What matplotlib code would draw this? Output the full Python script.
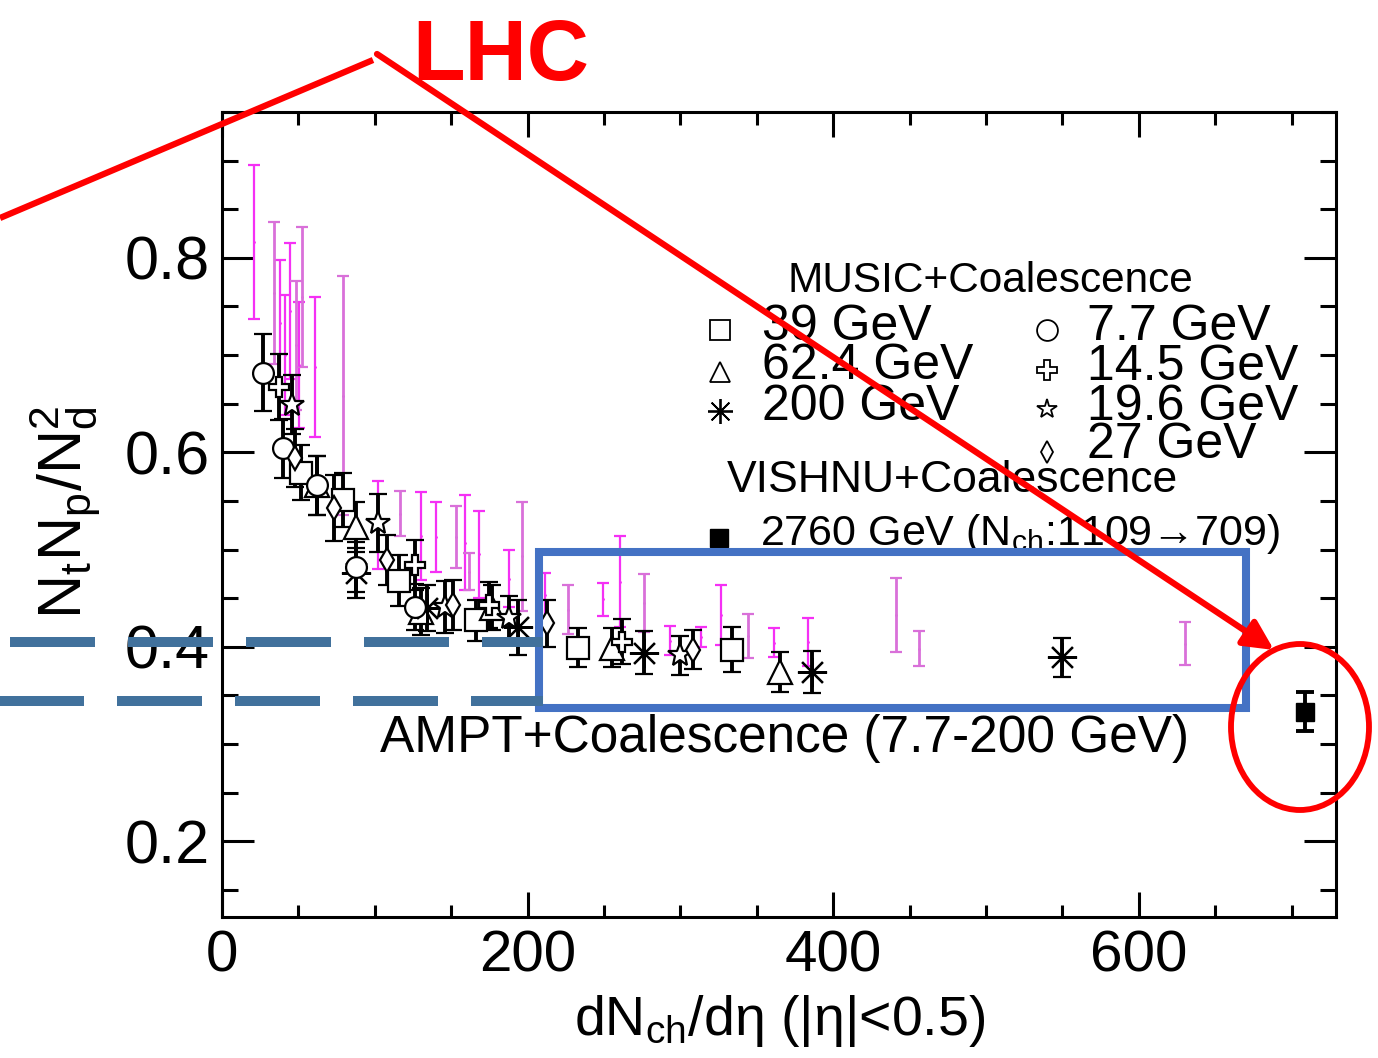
import numpy as np
import matplotlib
matplotlib.use("Agg")
import matplotlib.pyplot as plt
import matplotlib.transforms as mtransforms
from matplotlib.lines import Line2D
from matplotlib.patches import Rectangle, Ellipse, FancyArrowPatch
from matplotlib.ticker import MultipleLocator

plt.rcParams['font.family'] = ['Liberation Sans', 'DejaVu Sans']
plt.rcParams['mathtext.fontset'] = 'custom'
plt.rcParams['mathtext.rm'] = 'Liberation Sans'
plt.rcParams['mathtext.it'] = 'Liberation Sans'
plt.rcParams['mathtext.bf'] = 'Liberation Sans:bold'

# MUSIC+Coalescence, one set per beam energy (x = dNch/deta, y = NtNp/Nd^2)
x_77 = [27, 40, 62, 88, 126]
y_77 = [0.682, 0.604, 0.566, 0.482, 0.441]
e_77 = [0.040, 0.030, 0.030, 0.026, 0.024]

x_145 = [37, 126, 175, 262]
y_145 = [0.667, 0.484, 0.443, 0.405]
e_145 = [0.034, 0.026, 0.024, 0.023]

x_196 = [46, 102, 146, 188, 300]
y_196 = [0.649, 0.527, 0.441, 0.430, 0.391]
e_196 = [0.030, 0.030, 0.027, 0.022, 0.020]

x_27 = [48, 73, 108, 151, 213, 308]
y_27 = [0.594, 0.543, 0.489, 0.443, 0.424, 0.397]
e_27 = [0.030, 0.034, 0.026, 0.026, 0.024, 0.020]

x_39 = [52, 79, 116, 166, 233, 334]
y_39 = [0.579, 0.551, 0.468, 0.427, 0.399, 0.397]
e_39 = [0.028, 0.028, 0.026, 0.021, 0.020, 0.023]

x_624 = [62, 88, 130, 177, 255, 365]
y_624 = [0.566, 0.523, 0.436, 0.440, 0.399, 0.374]
e_624 = [0.030, 0.026, 0.024, 0.023, 0.020, 0.021]

x_200 = [88, 134, 194, 276, 386, 550]
y_200 = [0.476, 0.440, 0.420, 0.394, 0.374, 0.389]
e_200 = [0.026, 0.024, 0.028, 0.022, 0.022, 0.020]

# VISHNU+Coalescence, 2760 GeV
x_2760 = [709]
y_2760 = [0.333]
e_2760 = [0.020]

# AMPT+Coalescence (7.7-200 GeV), two shades in the original
ampt_x1 = [21, 38, 41, 44.5, 50.5, 61, 102, 130, 140, 159, 168, 188, 211.5,
           249, 260.5, 293, 313.5, 326.5, 361, 383.5]
ampt_y1 = [0.816, 0.733, 0.700, 0.745, 0.690, 0.688, 0.525, 0.514, 0.513, 0.507,
           0.495, 0.470, 0.453, 0.449, 0.467, 0.406, 0.410, 0.433, 0.404, 0.405]
ampt_e1 = [0.079, 0.065, 0.062, 0.070, 0.065, 0.072, 0.045, 0.045, 0.036, 0.049,
           0.045, 0.029, 0.023, 0.017, 0.047, 0.015, 0.010, 0.031, 0.015, 0.025]

ampt_x2 = [34, 48.5, 52.5, 79, 116.5, 153, 161.5, 196, 226.5, 276, 344, 441, 456, 630]
ampt_y2 = [0.764, 0.710, 0.760, 0.658, 0.537, 0.513, 0.477, 0.493, 0.438, 0.445,
           0.411, 0.433, 0.398, 0.403]
ampt_e2 = [0.073, 0.066, 0.072, 0.123, 0.023, 0.032, 0.019, 0.056, 0.025, 0.030,
           0.023, 0.038, 0.018, 0.022]

W, H = 1378, 1058
fig = plt.figure(figsize=(W / 100, H / 100), dpi=100)
ax = fig.add_axes([222 / W, 1 - 917 / H, (1336 - 222) / W, (917 - 112) / H])
ax.set_xlim(0, 729)
ax.set_ylim(0.122, 0.95)

# AMPT error bars
ax.errorbar(ampt_x1, ampt_y1, yerr=ampt_e1, fmt='.', ms=2, color='#f530f5',
            elinewidth=1.6, capsize=4, capthick=1.6, zorder=2)
ax.errorbar(ampt_x2, ampt_y2, yerr=ampt_e2, fmt='.', ms=2, color='#d970d9',
            elinewidth=2.0, capsize=4, capthick=1.6, zorder=2)

black = dict(mfc='white', mec='black', mew=1.6, ecolor='black', elinewidth=2.8,
             capsize=6.5, capthick=2.8, linestyle='none', zorder=3)
ax.errorbar(x_39, y_39, yerr=e_39, marker='s', ms=16, **black)
ax.errorbar(x_624, y_624, yerr=e_624, marker='^', ms=17, **black)
ax.errorbar(x_200, y_200, yerr=e_200, marker=(8, 2, 0), ms=21, **black)
ax.errorbar(x_77, y_77, yerr=e_77, marker='o', ms=15, **black)
ax.errorbar(x_145, y_145, yerr=e_145, marker='P', ms=15, **black)
ax.errorbar(x_196, y_196, yerr=e_196, marker='*', ms=18, **black)
ax.errorbar(x_27, y_27, yerr=e_27, marker='d', ms=12, **black)
ax.errorbar(x_2760, y_2760, yerr=e_2760, marker='s', ms=13, mfc='black', mec='black',
            ecolor='black', elinewidth=2.8, capsize=6.5, capthick=2.8,
            linestyle='none', zorder=3)

# legend, laid out as in the original
leg = dict(linestyle='none', mfc='white', mec='black', mew=1.3, zorder=4)
ax.plot(326, 0.726, marker='s', ms=15, **leg)
ax.plot(326, 0.683, marker='^', ms=15, **leg)
ax.plot(326, 0.642, marker=(8, 2, 0), ms=18, **leg)
ax.plot(540, 0.726, marker='o', ms=15, **leg)
ax.plot(540, 0.685, marker='P', ms=14, **leg)
ax.plot(540, 0.644, marker='*', ms=15, **leg)
ax.plot(540, 0.600, marker='d', ms=11, **leg)
ax.plot(325, 0.512, marker='s', ms=13, linestyle='none', color='black', zorder=4)

tfs = 36
ax.text(503, 0.765, 'MUSIC+Coalescence', fontsize=30.5, ha='center', va='baseline')
ax.text(353.5, 0.7156, '39 GeV', fontsize=tfs, va='baseline')
ax.text(353.5, 0.6755, '62.4 GeV', fontsize=tfs, va='baseline')
ax.text(353.5, 0.6333, '200 GeV', fontsize=tfs, va='baseline')
ax.text(566, 0.7156, '7.7 GeV', fontsize=tfs, va='baseline')
ax.text(566, 0.6744, '14.5 GeV', fontsize=tfs, va='baseline')
ax.text(566, 0.633, '19.6 GeV', fontsize=tfs, va='baseline')
ax.text(566, 0.5941, '27 GeV', fontsize=tfs, va='baseline')
ax.text(330.6, 0.5591, 'VISHNU+Coalescence', fontsize=32, va='baseline')
ax.text(352, 0.5046, '2760 GeV (N$_{\\rm ch}$:1109\u2192709)', fontsize=31, va='baseline')
ax.text(103.4, 0.2915, 'AMPT+Coalescence (7.7-200 GeV)', fontsize=37, va='baseline')

# axes styling
for s in ax.spines.values():
    s.set_linewidth(2.2)
ax.xaxis.set_major_locator(MultipleLocator(200))
ax.xaxis.set_minor_locator(MultipleLocator(50))
ax.yaxis.set_major_locator(MultipleLocator(0.2))
ax.yaxis.set_minor_locator(MultipleLocator(0.05))
ax.tick_params(which='both', direction='in', top=True, right=True, width=2.2)
ax.tick_params(axis='y', which='major', length=23, labelsize=44, pad=9)
ax.tick_params(axis='y', which='minor', length=11.5)
ax.tick_params(axis='x', which='major', length=18, labelsize=42, pad=9)
ax.tick_params(axis='x', which='minor', length=9)

ax.set_xlabel('dN$_{\\rm ch}$/d$\\eta$ (|$\\eta$|<0.5)', fontsize=40)
ax.xaxis.set_label_coords(0.501, -0.095)
fig.text(65 / W, 1 - 512 / H, 'N$_{\\rm t}$N$_{\\rm p}$/N$_{\\rm d}^{2}$',
         fontsize=44, rotation=90, ha='center', va='center')

# blue highlight box and dashed guide lines (data coordinates)
ax.add_patch(Rectangle((207.5, 0.3373), 462.5, 0.1601, fill=False, ec='#4472C4',
                       lw=5.8, clip_on=False, zorder=6))
dash_col = '#41719C'
ax.add_line(Line2D([-139, 210], [0.405, 0.405], color=dash_col, lw=7.2,
                   dashes=(8.5, 3.3), clip_on=False, zorder=7))
ax.add_line(Line2D([-156, 210], [0.344, 0.344], color=dash_col, lw=7.2,
                   dashes=(8.5, 3.3), clip_on=False, zorder=7))

# red annotation (pixel coordinates, origin top-left)
px = mtransforms.Affine2D().scale(1 / W, -1 / H).translate(0, 1) + fig.transFigure
fig.add_artist(Line2D([0, 373], [218, 60], transform=px, color='red', lw=4.5,
                      solid_capstyle='butt'))
fig.add_artist(FancyArrowPatch((377, 54), (1274, 650), transform=px, color='red',
                               lw=4.5, arrowstyle='-|>', mutation_scale=45,
                               shrinkA=0, shrinkB=0))
fig.add_artist(Ellipse((1300, 727), 138, 166, transform=px, fill=False,
                       ec='red', lw=4.2))
fig.text(412 / W, 1 - 80 / H, 'LHC', color='red', fontsize=62, fontweight='bold',
         ha='left', va='baseline')

fig.savefig('out.png', dpi=100)
